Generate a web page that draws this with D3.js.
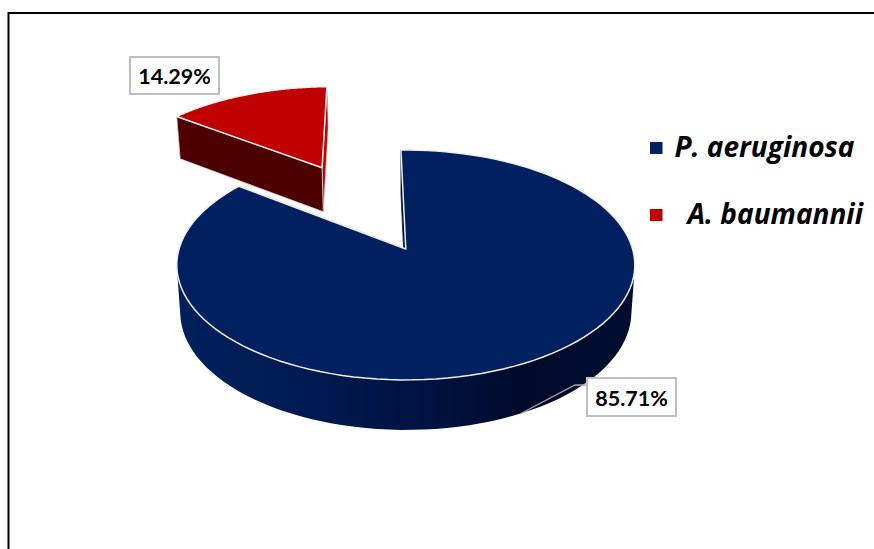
<!DOCTYPE html>
<html>
<head>
<meta charset="utf-8">
<script src="https://cdn.jsdelivr.net/npm/d3@7"></script>
<style>
html,body{margin:0;padding:0;background:#fff;}
svg{display:block;}
</style>
</head>
<body>
<svg id="chart" width="874" height="549"></svg>
<script>
const categories = ["P. aeruginosa", "A. baumannii"];
const shares = [85.71, 14.29];
const topColors = ["#002060", "#c00000"];

const svg = d3.select("#chart");
const deg = Math.PI / 180;

// Perspective view of the tilted disc: u is right, v is away from the viewer.
const view = {ax: 405.8, ay: 249, rx: 226.8, tiltY: -78.1, persp: 0.139};
const wallDepth = 46.5, wallPersp = 0.07, floorShrink = 0.985;

function topPoint(u, v) {
  const w = 1 + view.persp * v;
  return [view.ax + view.rx * u / w, (view.ay + view.tiltY * v) / w];
}
function floorPoint(u, v) {
  const [x, y] = topPoint(u, v);
  return [view.ax + (x - view.ax) * floorShrink, y + wallDepth / (1 + wallPersp * v)];
}

// The first slice starts just left of twelve o'clock and runs clockwise.
const pie = d3.pie().sort(null).startAngle(-1.4 * deg).endAngle(358.6 * deg);
const slices = pie(shares);
const explode = [0, 0.9];

const line = d3.line();

const defs = svg.append("defs");
const sideGrad = defs.append("linearGradient").attr("id", "sideNavy")
  .attr("gradientUnits", "userSpaceOnUse")
  .attr("x1", 178).attr("x2", 635).attr("y1", 0).attr("y2", 0);
[[0, "#00205c"], [0.3, "#001a50"], [0.55, "#001240"], [0.75, "#000b2b"], [1, "#000d30"]]
  .forEach(([o, c]) => sideGrad.append("stop").attr("offset", o).attr("stop-color", c));

// Frame around the figure, open at the bottom and on the right edge.
svg.append("path")
  .attr("d", line([[8.5, 549], [8.5, 13], [874, 13]]))
  .attr("fill", "none").attr("stroke", "#000").attr("stroke-width", 2);

function geometry(slice, i) {
  const mid = (slice.startAngle + slice.endAngle) / 2;
  const ou = explode[i] * Math.sin(mid), ov = explode[i] * Math.cos(mid);
  const steps = d3.range(0, 121).map(k => slice.startAngle + (slice.endAngle - slice.startAngle) * k / 120);
  const rim = steps.map(a => [ou + Math.sin(a), ov + Math.cos(a)]);
  return {apex: [ou, ov], rim};
}

// A wall quad with a fixed winding, so that a union of them fills solidly.
function quadPath(a, b) {
  let pts = [topPoint(...a), topPoint(...b), floorPoint(...b), floorPoint(...a)];
  if (d3.polygonArea(pts) < 0) pts = pts.reverse();
  return line(pts) + "Z";
}

const wallFill = ["url(#sideNavy)", "#c00000"];
const cutStart = ["#000c2c", "#4d0000"];
const cutEnd = ["#000c2c", "#c00000"];

slices.forEach((slice, i) => {
  const g = geometry(slice, i);
  const group = svg.append("g").attr("class", "slice");
  const first = g.rim[0], last = g.rim[g.rim.length - 1];

  // Outer wall
  group.append("path")
    .attr("d", d3.pairs(g.rim).map(([a, b]) => quadPath(a, b)).join(""))
    .attr("fill", wallFill[i]);

  // Cut faces
  group.append("path").attr("d", quadPath(g.apex, last))
    .attr("fill", cutEnd[i]).attr("stroke", i ? "#f0c0c0" : "#000c2c").attr("stroke-width", 0.6);
  group.append("path").attr("d", quadPath(g.apex, first))
    .attr("fill", cutStart[i]).attr("stroke", i ? "#e0d8d8" : "#000c2c").attr("stroke-width", 0.8);

  // Top face
  group.append("path")
    .attr("d", line([g.apex].concat(g.rim).map(p => topPoint(...p))) + "Z")
    .attr("fill", topColors[i])
    .attr("stroke", "#f0f0f0").attr("stroke-width", 1.5).attr("stroke-linejoin", "round");
});

// Percentage call-outs
const callouts = [
  {text: shares[1].toFixed(2) + "%", box: [130, 57, 89, 37]},
  {text: shares[0].toFixed(2) + "%", box: [587, 378, 89, 38], leader: [[520, 414], [575, 385], [587, 385]]}
];
callouts.forEach(c => {
  if (c.leader) {
    svg.append("path").attr("d", line(c.leader)).attr("fill", "none")
      .attr("stroke", "#a6a6a6").attr("stroke-width", 1.3);
  }
  const [x, y, w, h] = c.box;
  svg.append("rect").attr("x", x).attr("y", y).attr("width", w).attr("height", h)
    .attr("fill", "#fff").attr("stroke", "#bfbfbf").attr("stroke-width", 2);
  svg.append("text").attr("x", x + w / 2).attr("y", y + h / 2 + 8.5)
    .attr("text-anchor", "middle").attr("font-family", "Lato, sans-serif")
    .attr("font-weight", 700).attr("font-size", 21.5).attr("fill", "#000").text(c.text);
});

// Legend
const legendX = [674.5, 687.5];
const legendBase = [157, 224];
categories.forEach((name, i) => {
  svg.append("rect").attr("x", 650).attr("y", legendBase[i] - 15).attr("width", 12.5).attr("height", 12)
    .attr("fill", topColors[i]);
  svg.append("text").attr("x", legendX[i]).attr("y", legendBase[i])
    .attr("font-family", "'Open Sans', sans-serif").attr("font-weight", 700).attr("font-style", "italic")
    .attr("font-size", 28).attr("fill", "#000").text(name);
});
</script>
</body>
</html>
